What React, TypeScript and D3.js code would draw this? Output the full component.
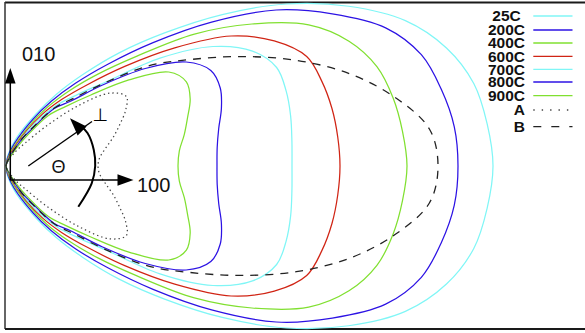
import React from 'react';
import * as d3 from 'd3';

// polar readings: angle from the [100] direction (deg) and radius (arbitrary units)
const angles = [0, 5, 10, 15, 20, 25, 30, 35, 40, 45, 50, 55, 60, 70, 80, 90];
const r25C = [487, 483, 475, 456, 425, 378, 324, 264, 207, 160, 119, 87, 60, 29, 11, 0];
const r200C = [452, 450, 442, 430, 404, 360, 312, 251, 192, 144, 108, 79, 54, 23, 8, 0];
const r400C = [401, 398, 393, 384, 365, 334, 284, 230, 171, 130, 98, 71, 46, 17, 5, 0];
const r600C = [334, 333, 331, 327, 320, 296, 260, 206, 155, 115, 87, 63, 39, 12, 3, 0];
const r700C = [286, 287, 289, 290, 288, 272, 239, 188, 131, 101, 80, 56, 34, 8, 2, 0];
const r800C = [211, 212, 216, 223, 228, 226, 208, 170, 126, 92, 75, 45, 29, 6, 1, 0];
const r900C = [172, 174, 181, 188, 196, 199, 188, 150, 110, 84, 66, 38, 20, 5, 1, 0];
const rA = [92, 94, 101, 111, 121, 132, 139, 127, 93, 55, 30, 20, 12, 5, 2, 0];
const rB = [432, 425, 395, 356, 309, 259, 213, 175, 130, 96, 76, 48, 30, 7, 2, 0];

const labels = ['25C', '200C', '400C', '600C', '700C', '800C', '900C', 'A', 'B'];
const values = [r25C, r200C, r400C, r600C, r700C, r800C, r900C, rA, rB];

const CYAN = '#80f6f6';
const BLUE = '#2c12e4';
const GREEN = '#80e030';
const RED = '#d02414';
const colors = [CYAN, BLUE, GREEN, RED, CYAN, BLUE, GREEN, '#444', '#222'];
const dashes = [null, null, null, null, null, null, null, '1.4,3', '8,7'];
const legendDashes = [null, null, null, null, null, null, null, '1.4,7', '8,10'];

const W = 585;
const H = 333;
const ox = 6;
const oy = 166;
const legendY = [16, 30, 43, 56.3, 69.3, 82, 95.7, 110, 126.7];

export default function App() {
  const rScale = d3.scaleLinear().domain([0, 500]).range([0, 500]);
  const angleScale = d3.scaleLinear().domain([90, -90]).range([0, Math.PI]);

  const line = d3
    .lineRadial<[number, number]>()
    .angle((d) => angleScale(d[0]))
    .radius((d) => rScale(d[1]))
    .curve(d3.curveCatmullRom.alpha(0.5));

  // upper half, lower half mirrored
  const closed = (vals: number[]) => {
    const upper = angles.map((a, i) => [a, vals[i]] as [number, number]).reverse();
    const lower = angles.slice(1).map((a, i) => [-a, vals[i + 1]] as [number, number]);
    return line([...upper, ...lower]) || '';
  };

  // theta arc annotation
  const arcPath = d3.line().curve(d3.curveCatmullRom)([
    [78.3, 206.7],
    [91.7, 183.3],
    [95.2, 166],
    [93.8, 150],
    [87.5, 133],
    [80, 125.5],
  ]) || '';

  const font = 'Liberation Sans, Arial, sans-serif';

  return (
    <svg width={W} height={H} style={{ position: 'absolute', left: 0, top: 0, background: '#fff' }}>
      {/* frame */}
      <line x1={5} y1={2.5} x2={W} y2={2.5} stroke="#1a1a1a" strokeWidth={2} />
      <line x1={5} y1={2} x2={5} y2={329} stroke="#333" strokeWidth={1.5} />
      <line x1={5} y1={329} x2={W} y2={329} stroke="#1a1a1a" strokeWidth={2} />

      <g transform={`translate(${ox},${oy})`}>
        {values.map((v, i) => (
          <path
            key={labels[i]}
            d={closed(v)}
            fill="none"
            stroke={colors[i]}
            strokeWidth={i === 8 ? 1.3 : 1.25}
            strokeDasharray={dashes[i] || undefined}
          />
        ))}
      </g>

      {/* crystal axes */}
      <line x1={10.3} y1={180} x2={10.3} y2={82} stroke="#000" strokeWidth={1.5} />
      <polygon points="10.3,68 5,83.5 15.6,83.5" fill="#000" />
      <line x1={10} y1={180} x2={118} y2={180} stroke="#000" strokeWidth={1.5} />
      <polygon points="133.5,180 117.5,174.3 117.5,185.7" fill="#000" />
      <text x={22} y={60.8} fontFamily={font} fontSize={20} fill="#111">010</text>
      <text x={137} y={191.6} fontFamily={font} fontSize={20} fill="#111">100</text>

      {/* theta annotation */}
      <line x1={28.3} y1={166} x2={92} y2={121.5} stroke="#000" strokeWidth={1.4} />
      <path d={arcPath} fill="none" stroke="#000" strokeWidth={2} />
      <polygon points="70,118.3 86.6,126.6 77.6,135.4" fill="#000" />
      <text x={51.5} y={173.3} fontFamily={font} fontSize={18} fill="#111">Θ</text>
      <text x={92.5} y={120.5} fontFamily="DejaVu Sans" fontSize={18} fill="#000">⊥</text>

      {/* legend */}
      {labels.map((l, i) => (
        <g key={l}>
          <text
            x={i < 7 ? 506.5 : 525}
            y={legendY[i] + 5.4}
            textAnchor={i < 7 ? 'middle' : 'end'}
            fontFamily={font}
            fontWeight="bold"
            fontSize={15.5}
            fill="#111"
          >
            {l}
          </text>
          <line
            x1={533.3}
            y1={legendY[i]}
            x2={572.5}
            y2={legendY[i]}
            stroke={colors[i]}
            strokeWidth={i === 7 ? 1.4 : 1.3}
            strokeDasharray={legendDashes[i] || undefined}
          />
        </g>
      ))}
    </svg>
  );
}
